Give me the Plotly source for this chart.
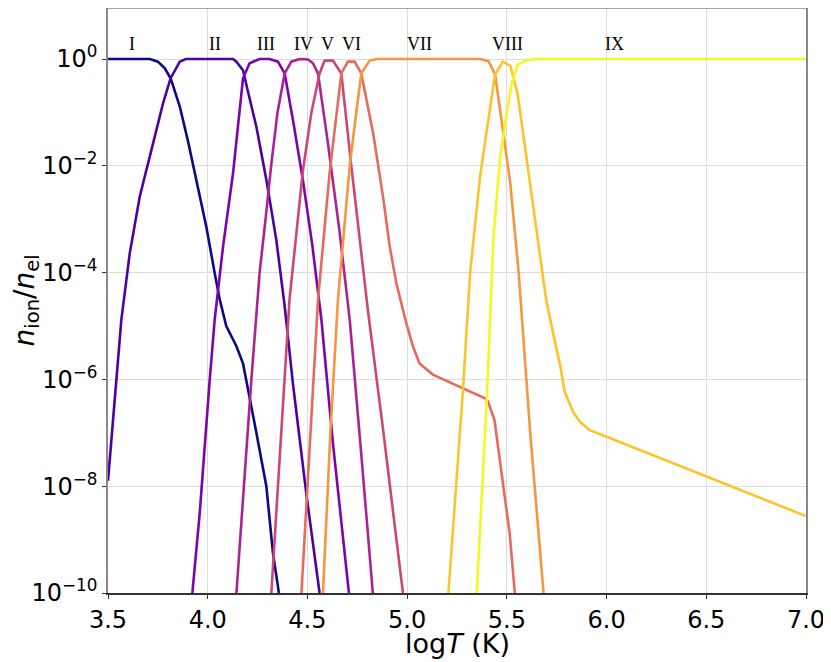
import plotly.graph_objects as go

# log10 T (K) and log10 ion fraction for each oxygen ion
ion_names = ["I", "II", "III", "IV", "V", "VI", "VII", "VIII", "IX"]
ion_colors = ["#0d0887", "#4c02a1", "#7e03a8", "#a92395", "#cc4778",
              "#e56b5d", "#f89540", "#fdc328", "#f0f921"]

t_I = [3.5, 3.6, 3.71, 3.75, 3.784, 3.814, 3.86, 3.90, 3.943, 3.993, 4.035, 4.06,
       4.093, 4.144, 4.177, 4.20, 4.244, 4.294, 4.327, 4.357]
f_I = [0, 0, 0, -0.05, -0.17, -0.36, -0.89, -1.52, -2.26, -3.14, -4.01, -4.5,
       -5.0, -5.38, -5.70, -6.13, -7.0, -8.0, -9.25, -10]

t_II = [3.5, 3.54, 3.567, 3.609, 3.659, 3.726, 3.776, 3.814, 3.86, 3.89, 4.127, 4.144,
        4.177, 4.20, 4.244, 4.294, 4.344, 4.385, 4.427, 4.494, 4.561]
f_II = [-7.9, -6.07, -4.88, -3.64, -2.58, -1.58, -0.83, -0.36, -0.05, 0, 0, -0.05,
        -0.21, -0.58, -1.27, -2.26, -3.39, -4.6, -6.07, -8.13, -10]

t_III = [3.923, 3.96, 4.01, 4.035, 4.077, 4.127, 4.177, 4.21, 4.26, 4.31, 4.352, 4.386,
         4.43, 4.477, 4.525, 4.57, 4.628, 4.708]
f_III = [-10, -8.5, -6.01, -4.88, -3.51, -2.14, -0.36, -0.08, 0, 0, -0.05, -0.27,
         -1.2, -2.26, -3.5, -4.88, -7.2, -10]

t_IV = [4.144, 4.18, 4.219, 4.25, 4.26, 4.29, 4.318, 4.35, 4.386, 4.419, 4.461, 4.503,
        4.528, 4.553, 4.60, 4.66, 4.712, 4.77, 4.828]
f_IV = [-10, -8.0, -6.0, -4.5, -4.01, -3.0, -2.0, -1.0, -0.27, -0.05, 0, -0.01,
        -0.08, -0.27, -1.5, -3.2, -4.88, -7.4, -10]

t_V = [4.319, 4.36, 4.41, 4.477, 4.52, 4.561, 4.586, 4.628, 4.670, 4.72, 4.803, 4.878, 4.979]
f_V = [-10, -7.5, -4.51, -2.1, -1.0, -0.27, -0.03, -0.03, -0.27, -2.0, -4.7, -6.9, -10]

t_VI = [4.47, 4.51, 4.553, 4.611, 4.670, 4.703, 4.737, 4.770, 4.83, 4.88, 4.912, 4.946,
        4.996, 5.029, 5.062, 5.129, 5.28, 5.388, 5.405, 5.438, 5.48, 5.514, 5.54]
f_VI = [-10, -7.3, -4.51, -2.14, -0.27, -0.05, -0.05, -0.27, -1.4, -2.6, -3.5, -4.2,
        -4.95, -5.38, -5.70, -5.91, -6.16, -6.35, -6.41, -6.76, -7.94, -8.88, -10]

t_VII = [4.578, 4.615, 4.653, 4.712, 4.745, 4.770, 4.812, 4.85, 5.366, 5.408, 5.441,
         5.475, 5.517, 5.559, 5.617, 5.684]
f_VII = [-10, -7.0, -4.51, -2.0, -1.0, -0.27, -0.03, 0, 0, -0.04, -0.29,
         -1.19, -2.32, -3.99, -6.99, -10]

t_VIII = [5.207, 5.28, 5.316, 5.366, 5.408, 5.441, 5.48, 5.517, 5.554, 5.617, 5.697,
          5.739, 5.768, 5.79, 5.832, 5.865, 5.916, 6.0, 6.5, 7.0]
f_VIII = [-10, -6.19, -3.99, -2.19, -1.12, -0.29, -0.05, -0.13, -0.65, -2.32, -4.51,
          -5.26, -5.75, -6.23, -6.61, -6.79, -6.95, -7.075, -7.825, -8.56]

t_IX = [5.349, 5.40, 5.433, 5.466, 5.5, 5.525, 5.554, 5.60, 5.65, 7.0]
f_IX = [-10, -6.32, -3.32, -1.85, -0.99, -0.45, -0.11, -0.02, 0, 0]

ion_t = [t_I, t_II, t_III, t_IV, t_V, t_VI, t_VII, t_VIII, t_IX]
ion_f = [f_I, f_II, f_III, f_IV, f_V, f_VI, f_VII, f_VIII, f_IX]

# label positions (log T) for the ion names, at log10 height 0.28
label_t = [3.62, 4.035, 4.29, 4.48, 4.60, 4.72, 5.06, 5.505, 6.04]
label_logy = 0.28

x_ticks = [3.5, 4.0, 4.5, 5.0, 5.5, 6.0, 6.5, 7.0]
y_exps = [0, -2, -4, -6, -8, -10]

fig = go.Figure()

for name, col, t, f in zip(ion_names, ion_colors, ion_t, ion_f):
    fig.add_trace(go.Scatter(
        x=t, y=[10 ** v for v in f], mode="lines", name=name,
        line=dict(color=col, width=2.6), showlegend=False))

for name, t in zip(ion_names, label_t):
    fig.add_annotation(x=t, y=label_logy, yref="y", text=name, showarrow=False,
                       font=dict(family="Liberation Serif", size=18, color="black"),
                       xanchor="center", yanchor="middle")

# dashed reference line at unity
fig.add_shape(type="line", xref="paper", x0=0, x1=1, yref="y", y0=0, y1=0,
              line=dict(color="#bbbbbb", width=1, dash="dash"), layer="below")
# top frame line
fig.add_shape(type="line", xref="paper", x0=0, x1=1, yref="paper", y0=1, y1=1,
              line=dict(color="#888888", width=1.5))

fig.update_xaxes(range=[3.5, 7.0], tickvals=x_ticks,
                 ticktext=[f"{v:.1f}" for v in x_ticks], automargin=False,
                 showgrid=True, gridcolor="#dddddd", gridwidth=1,
                 showline=True, linecolor="#333333", linewidth=1.5, mirror=False,
                 ticks="outside", ticklen=4, tickcolor="#333333",
                 tickfont=dict(family="DejaVu Sans", size=24, color="black"),
                 zeroline=False)
fig.update_yaxes(type="log", range=[-10, 0.955], automargin=False,
                 tickvals=[10 ** e for e in y_exps],
                 ticktext=[f"10<sup>{'−' + str(-e) if e < 0 else e}</sup>" for e in y_exps],
                 showgrid=True, gridcolor="#dddddd", gridwidth=1,
                 showline=True, linecolor="#888888", linewidth=1.5, mirror=True,
                 ticks="outside", ticklen=4, tickcolor="#333333",
                 tickfont=dict(family="DejaVu Sans", size=24, color="black"),
                 zeroline=False)

fig.add_annotation(xref="paper", yref="paper", x=0.5, y=0, yshift=-50,
                   text="log<i>T</i> (K)", showarrow=False,
                   font=dict(family="DejaVu Sans", size=27, color="black"),
                   xanchor="center", yanchor="middle")
fig.add_annotation(xref="paper", yref="paper", x=0, y=0.5, xshift=-82,
                   text="<i>n</i><sub>ion</sub>/<i>n</i><sub>el</sub>", showarrow=False,
                   textangle=-90,
                   font=dict(family="DejaVu Sans", size=28, color="black"),
                   xanchor="center", yanchor="middle")

fig.update_layout(width=823, height=654,
                  margin=dict(l=100, r=25, t=0, b=69),
                  paper_bgcolor="white", plot_bgcolor="white")

fig.write_html("out.html")
